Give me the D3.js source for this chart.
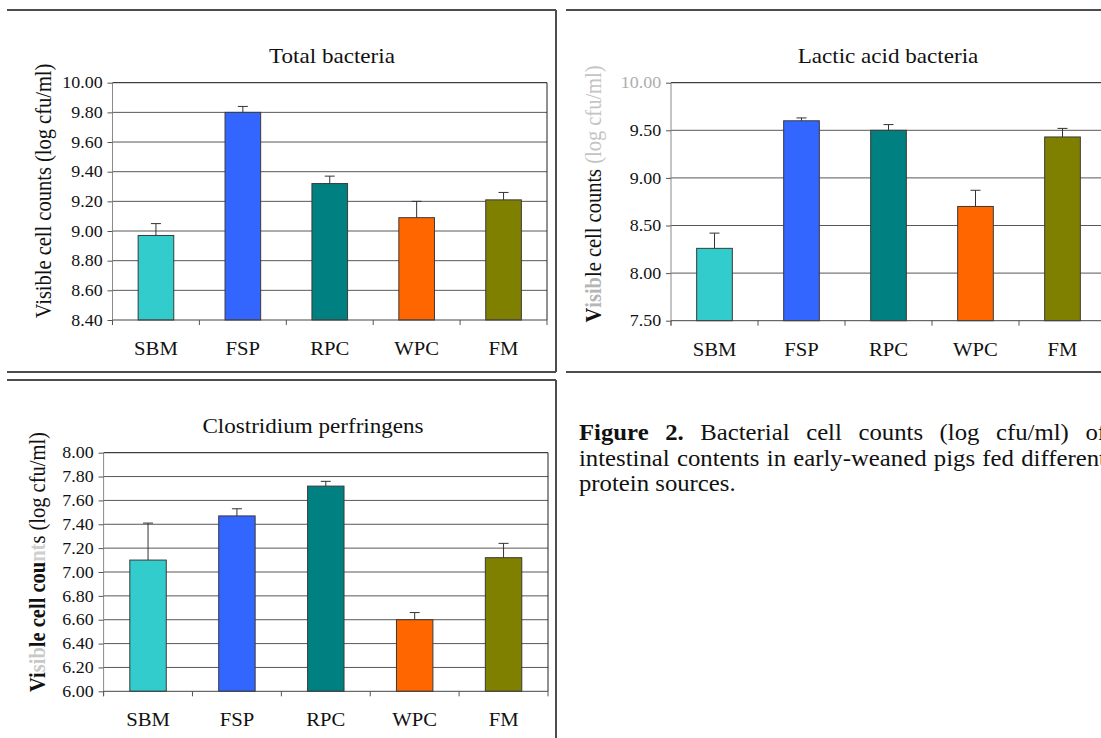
<!DOCTYPE html>
<html>
<head>
<meta charset="utf-8">
<title>Figure 2</title>
<script src="https://cdn.jsdelivr.net/npm/d3@7/dist/d3.min.js"></script>
<style>
  body { margin: 0; background: #fff; }
</style>
</head>
<body>
<svg id="mainsvg" width="1101" height="738"></svg>
<script>
// ---------- data ----------
const categories = ["SBM", "FSP", "RPC", "WPC", "FM"];
const barColors = ["#33CCCC", "#3366FF", "#008080", "#FF6600", "#808000"];

const totalMeans = [8.97, 9.80, 9.32, 9.09, 9.21];
const totalErrs = [0.08, 0.04, 0.05, 0.11, 0.05];
const totalTicks = [8.40, 8.60, 8.80, 9.00, 9.20, 9.40, 9.60, 9.80, 10.00];

const lacticMeans = [8.26, 9.60, 9.50, 8.70, 9.43];
const lacticErrs = [0.16, 0.03, 0.06, 0.17, 0.09];
const lacticTicks = [7.50, 8.00, 8.50, 9.00, 9.50, 10.00];

const clostMeans = [7.10, 7.47, 7.72, 6.60, 7.12];
const clostErrs = [0.31, 0.06, 0.04, 0.06, 0.12];
const clostTicks = [6.00, 6.20, 6.40, 6.60, 6.80, 7.00, 7.20, 7.40, 7.60, 7.80, 8.00];

const captionLine1 = ["Figure", "2.", "Bacterial", "cell", "counts", "(log", "cfu/ml)", "of"];
const captionLine2 = ["intestinal", "contents", "in", "early-weaned", "pigs", "fed", "different"];
const captionLine3 = "protein sources.";

// ---------- setup ----------
const svg = d3.select("#mainsvg");
const FONT = '"Liberation Serif", "Times New Roman", serif';
const SX = 1.1;   // the scanned figure is a bit stretched sideways
const fmt = d3.format(".2f");

// panel frames
const frames = [
  [7, 10, 556, 10], [556, 10, 556, 372], [7, 372, 556, 372],
  [566, 10, 1101, 10], [566, 372, 1101, 372],
  [7, 380, 556, 380], [556, 380, 556, 738]
];
svg.selectAll("line.frame").data(frames).join("line")
  .attr("class", "frame")
  .attr("x1", d => d[0]).attr("y1", d => d[1])
  .attr("x2", d => d[2]).attr("y2", d => d[3])
  .attr("stroke", "#4d4d4d").attr("stroke-width", 2);

const panels = [
  { title: "Total bacteria", means: totalMeans, errs: totalErrs, ticks: totalTicks,
    x0: 112.5, x1: 547, yTop: 82.7, yBot: 320, titleX: 332, titleY: 62.7,
    labX: 51, labY: 191, xLabY: 355,
    ylab: [{ t: "Visible cell counts (log cfu/ml)" }] },
  { title: "Lactic acid bacteria", means: lacticMeans, errs: lacticErrs, ticks: lacticTicks,
    x0: 671, x1: 1106, yTop: 82.7, yBot: 320.7, titleX: 888, titleY: 63.3,
    labX: 601, labY: 194, xLabY: 356.5, fadeTop: true,
    ylab: [{ t: "V", w: "bold" }, { t: "isib", w: "bold", c: "#b5b5b5" },
           { t: "le cell counts " }, { t: "(log cfu/ml)", c: "#c4c4c4" }] },
  { title: "Clostridium perfringens", means: clostMeans, errs: clostErrs, ticks: clostTicks,
    x0: 103.6, x1: 548, yTop: 452.7, yBot: 691.3, titleX: 313, titleY: 433,
    labX: 45, labY: 562, xLabY: 726,
    ylab: [{ t: "Vi", w: "bold" }, { t: "sib", w: "bold", c: "#c8c8c8" },
           { t: "le cell cou", w: "bold" }, { t: "nt", w: "bold", c: "#cfcfcf" },
           { t: "s (log cfu/ml)" }] }
];

panels.forEach(p => {
  const g = svg.append("g");
  const x = d3.scaleBand().domain(categories).range([p.x0, p.x1]).padding(0);
  const y = d3.scaleLinear().domain([p.ticks[0], p.ticks[p.ticks.length - 1]]).range([p.yBot, p.yTop]);
  const bw = x.bandwidth() * 0.41;

  // gridlines
  g.selectAll("line.grid").data(p.ticks.slice(1, -1)).join("line")
    .attr("x1", p.x0).attr("x2", p.x1)
    .attr("y1", d => y(d)).attr("y2", d => y(d))
    .attr("stroke", "#585858").attr("stroke-width", 1);
  // top and right edge of the plot area
  g.append("line").attr("x1", p.x0).attr("x2", p.x1)
    .attr("y1", y.range()[1]).attr("y2", y.range()[1]).attr("stroke", "#111");
  g.append("line").attr("x1", p.x1).attr("x2", p.x1)
    .attr("y1", p.yTop).attr("y2", p.yBot).attr("stroke", "#222");

  // bars
  g.selectAll("rect.bar").data(p.means).join("rect")
    .attr("x", (d, i) => x(categories[i]) + (x.bandwidth() - bw) / 2)
    .attr("y", d => y(d))
    .attr("width", bw)
    .attr("height", d => p.yBot - y(d))
    .attr("fill", (d, i) => barColors[i])
    .attr("stroke", "#3a3a3a").attr("stroke-width", 1);

  // error bars (upper only)
  const cx = i => x(categories[i]) + x.bandwidth() / 2;
  g.selectAll("line.err").data(p.means).join("line")
    .attr("x1", (d, i) => cx(i)).attr("x2", (d, i) => cx(i))
    .attr("y1", d => y(d)).attr("y2", (d, i) => y(d + p.errs[i]))
    .attr("stroke", "#333");
  g.selectAll("line.cap").data(p.means).join("line")
    .attr("x1", (d, i) => cx(i) - 5).attr("x2", (d, i) => cx(i) + 5)
    .attr("y1", (d, i) => y(d + p.errs[i])).attr("y2", (d, i) => y(d + p.errs[i]))
    .attr("stroke", "#333");

  // y axis
  const yAxis = g.append("g").attr("transform", `translate(${p.x0},0)`)
    .call(d3.axisLeft(y).tickValues(p.ticks).tickFormat(fmt).tickSize(5).tickPadding(4));
  yAxis.select(".domain").attr("stroke", "#8a8a8a").attr("d", `M0,${p.yTop}V${p.yBot + 5}`);
  yAxis.selectAll(".tick line").attr("stroke", "#555");
  yAxis.selectAll(".tick text")
    .attr("font-size", 16.3).style("font-family", FONT).attr("fill", "#111")
    .attr("transform", `scale(${SX},1)`);
  if (p.fadeTop) {
    yAxis.selectAll(".tick text").filter(d => d === 10).attr("fill", "#9a9a9a").attr("opacity", 0.8);
  }

  // x axis
  const xAxis = g.append("g").attr("transform", `translate(0,${p.yBot})`)
    .call(d3.axisBottom(x).tickSize(0));
  xAxis.select(".domain").attr("stroke", "#444").attr("d", `M${p.x0},0H${p.x1}`);
  xAxis.selectAll(".tick text")
    .attr("font-size", 18.8).style("font-family", FONT).attr("fill", "#111")
    .attr("y", p.xLabY - p.yBot).attr("dy", 0)
    .attr("transform", `scale(${SX},1)`);
  const bounds = categories.map(c => x(c)).concat([p.x1]);
  g.selectAll("line.xt").data(bounds).join("line")
    .attr("x1", d => d).attr("x2", d => d)
    .attr("y1", p.yBot).attr("y2", p.yBot + 5)
    .attr("stroke", "#555");

  // title
  g.append("text")
    .attr("transform", `translate(${p.titleX},${p.titleY}) scale(${SX},1)`)
    .attr("text-anchor", "middle").attr("font-size", 21)
    .style("font-family", FONT).attr("fill", "#111")
    .text(p.title);

  // y axis title
  const yl = g.append("text")
    .attr("transform", `translate(${p.labX},${p.labY}) scale(${SX},1) rotate(-90)`)
    .attr("text-anchor", "middle").attr("font-size", 20.5)
    .style("font-family", FONT);
  p.ylab.forEach(s => {
    yl.append("tspan").text(s.t)
      .attr("font-weight", s.w || null)
      .style("fill", s.c || "#111");
  });
});

// ---------- caption ----------
function justify(words, x0, y0, width, boldCount) {
  const g = svg.append("g");
  const nodes = words.map((w, i) => g.append("text")
    .attr("font-size", 22.5)
    .style("font-family", FONT).attr("fill", "#111")
    .attr("font-weight", i < boldCount ? "bold" : null)
    .text(w));
  const widths = nodes.map(n => n.node().getComputedTextLength() * SX);
  const gap = (width - d3.sum(widths)) / (words.length - 1);
  let cx = x0;
  nodes.forEach((n, i) => {
    n.attr("transform", `translate(${cx},${y0}) scale(${SX},1)`);
    cx += widths[i] + gap;
  });
}
justify(captionLine1, 579, 440, 527, 2);
justify(captionLine2, 579, 466, 527, 0);
svg.append("text")
  .attr("transform", `translate(579,491) scale(${SX},1)`)
  .attr("font-size", 22.5)
  .style("font-family", FONT).attr("fill", "#111")
  .text(captionLine3);
</script>
</body>
</html>
